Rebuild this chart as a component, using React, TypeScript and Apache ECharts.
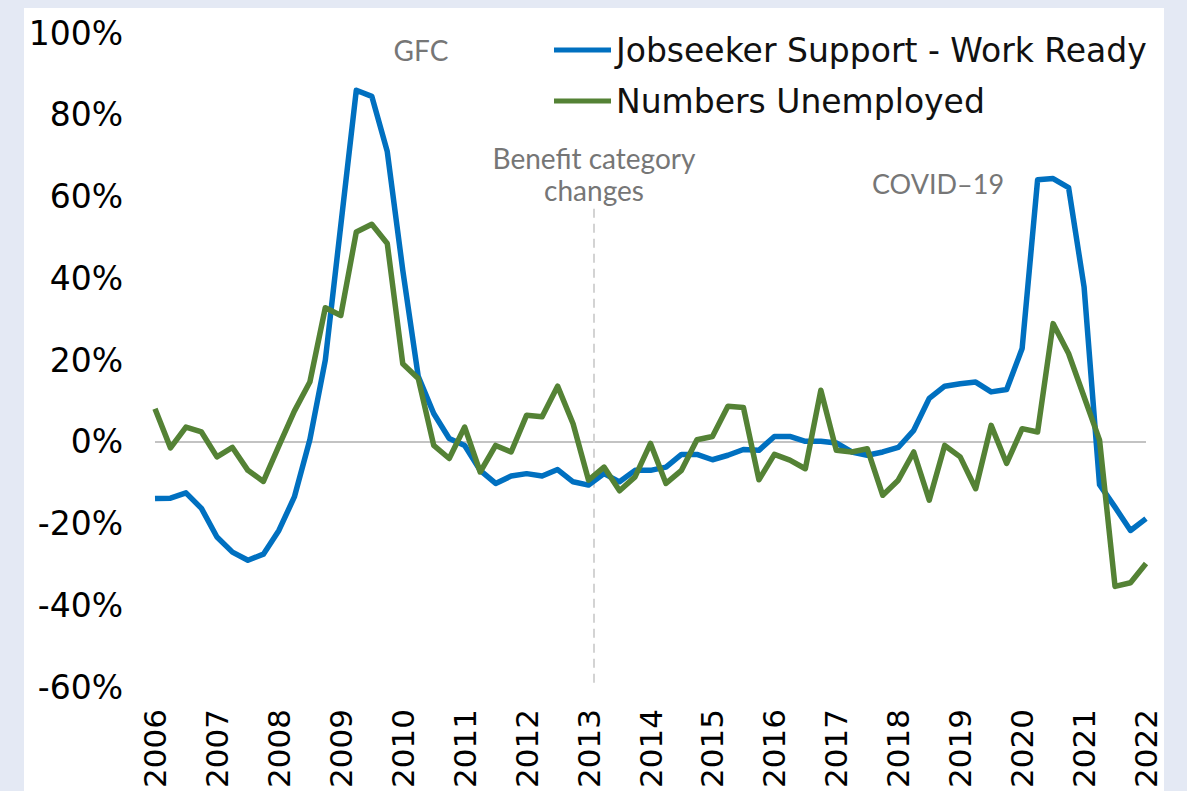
import React, { useEffect, useRef } from "react";
import * as echarts from "echarts";

// Quarterly annual % change, 2006 Q1 through 2022 Q1
const START_YEAR = 2006;
const END_YEAR = 2022;

const jobseekerWorkReady = [
  -13.9, -13.8, -12.5, -16.3, -23.3, -27.0, -29.0, -27.5,
  -21.7, -13.5, 0.5, 20.0, 53.0, 86.0, 84.5, 71.0,
  42.0, 16.0, 6.9, 0.8, -0.9, -7.0, -10.2, -8.4,
  -7.8, -8.4, -6.8, -9.8, -10.6, -7.8, -9.8, -7.0,
  -7.0, -6.2, -3.1, -3.1, -4.4, -3.3, -1.9, -2.1,
  1.3, 1.3, 0.1, 0.1, -0.3, -2.5, -3.3, -2.5,
  -1.4, 2.8, 10.6, 13.6, 14.2, 14.6, 12.2, 12.8,
  22.8, 64.1, 64.4, 62.2, 37.9, -10.5, -16.0, -21.7,
  -18.8,
];

const numbersUnemployed = [
  8.1, -1.5, 3.6, 2.4, -3.7, -1.4, -7.0, -9.7,
  -1.0, 7.5, 14.6, 32.8, 30.9, 51.3, 53.2, 48.5,
  19.1, 15.5, -0.9, -4.1, 3.6, -7.4, -0.9, -2.5,
  6.5, 6.1, 13.6, 4.4, -9.4, -6.2, -12.0, -8.6,
  -0.4, -10.2, -7.0, 0.5, 1.3, 8.7, 8.4, -9.3,
  -3.1, -4.5, -6.6, 12.6, -2.1, -2.5, -1.7, -13.1,
  -9.4, -2.5, -14.3, -0.9, -3.7, -11.5, 4.0, -5.3,
  3.2, 2.4, 28.9, 21.6, 11.0, 0.4, -35.4, -34.5,
  -29.8,
];

const seriesNames = ["Jobseeker Support - Work Ready", "Numbers Unemployed"];

// When benefit categories were restructured (early 2013)
const BENEFIT_CHANGE = 2013.08;

const toPoints = (values: number[]) =>
  values.map((v, i) => [START_YEAR + i / 4, v]);

const FONT = "DejaVu Sans";
const NOTE_FONT = "Lato";

export default function App() {
  const ref = useRef<HTMLDivElement>(null);

  useEffect(() => {
    document.body.style.margin = "0";
    if (!ref.current) return;
    const chart = echarts.init(ref.current, undefined, { renderer: "svg" });

    chart.setOption({
      animation: false,
      textStyle: { fontFamily: FONT },
      grid: {
        left: 155,
        right: 41,
        top: 33,
        bottom: 104,
        containLabel: false,
        // keep the plot size fixed regardless of the long year labels
        outerBoundsMode: "none",
      },
      legend: {
        orient: "vertical",
        left: 549,
        top: 25,
        icon: "rect",
        itemWidth: 57,
        itemHeight: 5,
        itemGap: 11,
        textStyle: { fontFamily: FONT, fontSize: 33, color: "#111", lineHeight: 40 },
        data: seriesNames,
      },
      xAxis: {
        type: "value",
        min: START_YEAR,
        max: END_YEAR,
        interval: 1,
        axisLine: { show: false },
        axisTick: { show: false },
        splitLine: { show: false },
        axisLabel: {
          rotate: 90,
          margin: 22,
          fontSize: 31,
          color: "#000",
          fontFamily: FONT,
          formatter: (v: number) => String(v),
        },
      },
      yAxis: {
        type: "value",
        min: -60,
        max: 100,
        interval: 20,
        axisLine: { show: false },
        axisTick: { show: false },
        splitLine: { show: false },
        axisLabel: {
          margin: 32,
          fontSize: 33,
          color: "#000",
          fontFamily: FONT,
          formatter: "{value}%",
        },
      },
      series: [
        {
          name: seriesNames[0],
          type: "line",
          data: toPoints(jobseekerWorkReady),
          symbol: "none",
          color: "#0070c0",
          lineStyle: { width: 5.5, color: "#0070c0", join: "round" },
          markLine: {
            silent: true,
            symbol: "none",
            label: { show: false },
            data: [
              {
                yAxis: 0,
                lineStyle: { color: "#c3c3c3", width: 2, type: "solid" },
              },
              [
                { coord: [BENEFIT_CHANGE, 57] },
                { coord: [BENEFIT_CHANGE, -60] },
              ],
            ],
            lineStyle: { color: "#d3d3d3", width: 2, type: [9, 6] },
            z: 1,
          },
        },
        {
          name: seriesNames[1],
          type: "line",
          data: toPoints(numbersUnemployed),
          symbol: "none",
          color: "#548235",
          lineStyle: { width: 5.5, color: "#548235", join: "round" },
        },
      ],
      graphic: [
        {
          type: "text",
          x: 421,
          y: 50,
          style: {
            text: "GFC",
            fontFamily: NOTE_FONT,
            fontSize: 28,
            fill: "#767676",
            align: "center",
            verticalAlign: "middle",
          },
        },
        {
          type: "text",
          x: 594,
          y: 174,
          style: {
            text: "Benefit category\nchanges",
            fontFamily: NOTE_FONT,
            fontSize: 28,
            lineHeight: 32,
            fill: "#767676",
            align: "center",
            verticalAlign: "middle",
          },
        },
        {
          type: "text",
          x: 938,
          y: 183,
          style: {
            text: "COVID\u201319",
            fontFamily: NOTE_FONT,
            fontSize: 27,
            fill: "#767676",
            align: "center",
            verticalAlign: "middle",
          },
        },
      ],
    });

    return () => chart.dispose();
  }, []);

  return (
    <div
      style={{
        position: "relative",
        width: 1187,
        height: 791,
        overflow: "hidden",
        background: "#e4e9f4",
      }}
    >
      <div
        style={{
          position: "absolute",
          left: 24,
          top: 8,
          width: 1140,
          height: 800,
          background: "#ffffff",
        }}
      />
      <div
        ref={ref}
        style={{ position: "absolute", left: 0, top: 0, width: 1187, height: 791 }}
      />
    </div>
  );
}
